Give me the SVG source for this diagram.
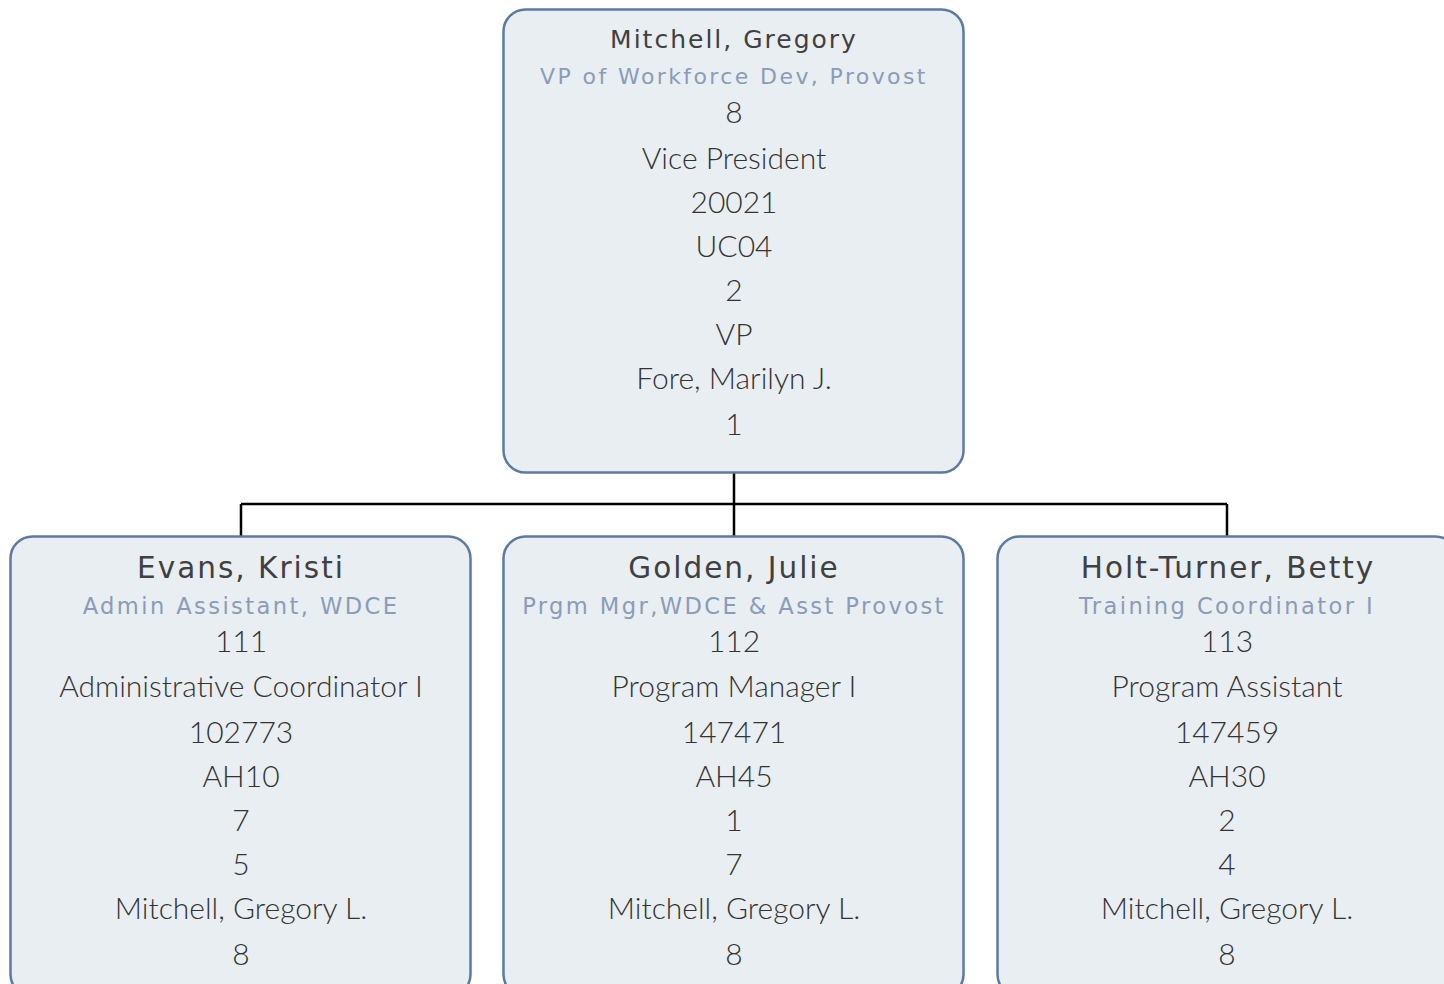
<svg xmlns="http://www.w3.org/2000/svg" width="1444" height="984" viewBox="0 0 1444 984">
<style>
.box{fill:#e9eef2;stroke:#5e7aa0;stroke-width:2.5}
.name{font-family:"DejaVu Sans",sans-serif;font-size:25px;fill:#404040;letter-spacing:2px;text-anchor:middle}
.name2{font-family:"DejaVu Sans",sans-serif;font-size:29.5px;fill:#404040;letter-spacing:2px;text-anchor:middle}
.title{font-family:"DejaVu Sans",sans-serif;font-size:22px;fill:#8a9cb8;letter-spacing:2.4px;text-anchor:middle}
.title2{font-family:"DejaVu Sans",sans-serif;font-size:22.6px;fill:#8a9cb8;letter-spacing:2.4px;text-anchor:middle}
.d{font-family:Lato,sans-serif;font-weight:300;font-size:30px;fill:#333;text-anchor:middle}
.conn{fill:none;stroke:#000;stroke-width:2.5}
</style>
<rect width="1444" height="984" fill="#fff"/>
<g id="connectors">
<path class="conn" d="M734 473V504M241 504H1227M241 504V536M734 504V536M1227 504V536"/>
</g>
<g id="n-mitchell">
<rect class="box" x="503.5" y="9.5" width="460" height="463" rx="22"/>
<text class="name" x="734" y="48">Mitchell, Gregory</text>
<text class="title" x="734" y="84">VP of Workforce Dev, Provost</text>
<text class="d" x="734" y="123">8</text>
<text class="d" x="734" y="169">Vice President</text>
<text class="d" x="734" y="213">20021</text>
<text class="d" x="734" y="257">UC04</text>
<text class="d" x="734" y="301">2</text>
<text class="d" x="734" y="345">VP</text>
<text class="d" x="734" y="389">Fore, Marilyn J.</text>
<text class="d" x="734" y="435">1</text>
</g>
<g id="n-evans">
<rect class="box" x="10.5" y="536.5" width="460" height="460" rx="22"/>
<text class="name2" x="241" y="578">Evans, Kristi</text>
<text class="title2" x="241" y="614">Admin Assistant, WDCE</text>
<text class="d" x="241" y="652">111</text>
<text class="d" x="241" y="697">Administrative Coordinator I</text>
<text class="d" x="241" y="743">102773</text>
<text class="d" x="241" y="787">AH10</text>
<text class="d" x="241" y="831">7</text>
<text class="d" x="241" y="875">5</text>
<text class="d" x="241" y="919">Mitchell, Gregory L.</text>
<text class="d" x="241" y="965">8</text>
</g>
<g id="n-golden">
<rect class="box" x="503.5" y="536.5" width="460" height="460" rx="22"/>
<text class="name2" x="734" y="578">Golden, Julie</text>
<text class="title2" x="734" y="614">Prgm Mgr,WDCE &amp; Asst Provost</text>
<text class="d" x="734" y="652">112</text>
<text class="d" x="734" y="697">Program Manager I</text>
<text class="d" x="734" y="743">147471</text>
<text class="d" x="734" y="787">AH45</text>
<text class="d" x="734" y="831">1</text>
<text class="d" x="734" y="875">7</text>
<text class="d" x="734" y="919">Mitchell, Gregory L.</text>
<text class="d" x="734" y="965">8</text>
</g>
<g id="n-holt">
<rect class="box" x="997.5" y="536.5" width="460" height="460" rx="22"/>
<text class="name2" x="1228" y="578">Holt-Turner, Betty</text>
<text class="title2" x="1227" y="614">Training Coordinator I</text>
<text class="d" x="1227" y="652">113</text>
<text class="d" x="1227" y="697">Program Assistant</text>
<text class="d" x="1227" y="743">147459</text>
<text class="d" x="1227" y="787">AH30</text>
<text class="d" x="1227" y="831">2</text>
<text class="d" x="1227" y="875">4</text>
<text class="d" x="1227" y="919">Mitchell, Gregory L.</text>
<text class="d" x="1227" y="965">8</text>
</g>
</svg>
